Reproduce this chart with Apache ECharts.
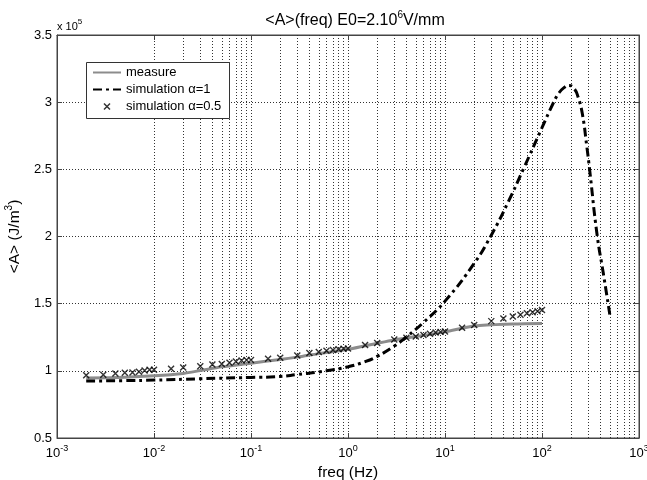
<!DOCTYPE html>
<html>
<head>
<meta charset="utf-8">
<script src="https://cdn.jsdelivr.net/npm/echarts@6/dist/echarts.min.js"></script>
<style>
html,body{margin:0;padding:0;background:#fff;}
#c{width:647px;height:480px;}
</style>
</head>
<body>
<div id="c"></div>
<script>
// ---- data (values in units of 1e5 J/m^3) ----
var measureFreq = [0.002, 0.005, 0.01, 0.02, 0.03, 0.05, 0.1, 0.2, 0.3, 0.5, 1, 2, 3, 5, 10, 20, 50, 100];
var measureVal  = [0.946, 0.952, 0.963, 0.981, 1.002, 1.030, 1.057, 1.085, 1.102, 1.128, 1.160, 1.205, 1.230, 1.255, 1.290, 1.333, 1.348, 1.352];

var sim1Freq = [0.002, 0.005, 0.01, 0.03, 0.1, 0.2, 0.3, 0.6, 1, 1.5, 2, 3, 4, 6, 10, 20, 30, 45, 65, 100, 130, 150, 170, 190, 215, 235, 260, 290, 310, 370, 430, 500];
var sim1Val  = [0.924, 0.927, 0.931, 0.941, 0.951, 0.958, 0.973, 1.000, 1.030, 1.068, 1.108, 1.184, 1.252, 1.360, 1.519, 1.800, 2.010, 2.260, 2.510, 2.810, 2.990, 3.070, 3.110, 3.125, 3.100, 3.040, 2.917, 2.668, 2.495, 2.011, 1.720, 1.420];

var sim05Freq = [0.002, 0.003, 0.004, 0.005, 0.006, 0.007, 0.008, 0.009, 0.01,
                 0.015, 0.02, 0.03, 0.04, 0.05, 0.06, 0.07, 0.08, 0.09, 0.1,
                 0.15, 0.2, 0.3, 0.4, 0.5, 0.6, 0.7, 0.8, 0.9, 1,
                 1.5, 2, 3, 4, 5, 6, 7, 8, 9, 10,
                 15, 20, 30, 40, 50, 60, 70, 80, 90, 100];
var sim05Val  = [0.968, 0.971, 0.981, 0.986, 0.988, 0.993, 1.003, 1.008, 1.008,
                 1.015, 1.025, 1.035, 1.048, 1.050, 1.060, 1.070, 1.077, 1.080, 1.080,
                 1.090, 1.097, 1.115, 1.132, 1.140, 1.149, 1.155, 1.160, 1.164, 1.167,
                 1.192, 1.207, 1.234, 1.246, 1.256, 1.266, 1.276, 1.286, 1.290, 1.293,
                 1.321, 1.341, 1.370, 1.390, 1.405, 1.418, 1.428, 1.436, 1.444, 1.452];

var seriesNames = ['measure', 'simulation \u03b1=1', 'simulation \u03b1=0.5'];
var yTicks = [0.5, 1, 1.5, 2, 2.5, 3, 3.5];
var decades = [0.001, 0.01, 0.1, 1, 10, 100];
var minorMult = [2, 3, 4, 5, 6, 7, 8, 9];

function zip(a, b) { return a.map(function (v, i) { return [v, b[i]]; }); }

var minorGrid = [];
decades.forEach(function (d) { minorMult.forEach(function (m) { minorGrid.push({ xAxis: d * m }); }); });

var FONT = 'Liberation Sans, Arial, Helvetica, sans-serif';
var gridColor = '#333';
var axisColor = '#444';
var crossPath = 'path://M0,0L10,10M10,0L0,10';

var chart = echarts.init(document.getElementById('c'), null, { renderer: 'canvas' });
function supRich(base, sup, lh) {
  return {
    b: { fontSize: base, fontFamily: FONT, fontWeight: 'normal', color: '#000', lineHeight: lh, verticalAlign: 'bottom' },
    s: { fontSize: sup, fontFamily: FONT, fontWeight: 'normal', color: '#000', lineHeight: lh, verticalAlign: 'top' }
  };
}

chart.setOption({
  animation: false,
  backgroundColor: '#fff',
  title: {
    text: '{b|<A>(freq) E0=2.10}{s|6}{b|V/mm}',
    left: 350, top: 5, textAlign: 'center',
    textStyle: { fontWeight: 'normal', rich: supRich(16, 10, 19) }
  },
  graphic: [{
    type: 'text', left: 57, top: 18,
    style: { text: '{b|x 10}{s|5}', rich: {
      b: { fontSize: 11, fontFamily: FONT, fill: '#000', lineHeight: 14, verticalAlign: 'bottom' },
      s: { fontSize: 8, fontFamily: FONT, fill: '#000', lineHeight: 14, verticalAlign: 'top' } } }
  }, {
    type: 'rect', left: 86, top: 62, z: 40,
    shape: { width: 143, height: 56 },
    style: { fill: '#fff', stroke: '#333', lineWidth: 1 }
  }],
  legend: {
    orient: 'vertical', left: 86, top: 62, z: 50,
    padding: [4, 8, 3, 6], itemGap: 4, itemWidth: 28, itemHeight: 6,
    textStyle: { fontSize: 13, fontFamily: FONT, color: '#000' },
    data: [
      { name: seriesNames[0], itemStyle: { opacity: 0 } },
      { name: seriesNames[1], itemStyle: { opacity: 0 } },
      { name: seriesNames[2], icon: crossPath, itemStyle: { color: 'none', borderColor: '#000', borderWidth: 1.5 } }
    ]
  },
  grid: { left: 57, right: 8, top: 35, bottom: 42, outerBoundsMode: 'none', containLabel: false,
          show: true, borderColor: axisColor, borderWidth: 1, backgroundColor: 'transparent' },
  xAxis: [{
    type: 'log', logBase: 10, min: 0.001, max: 1000,
    name: 'freq (Hz)', nameLocation: 'middle', nameGap: 25,
    nameTextStyle: { fontSize: 15.5, fontFamily: FONT, color: '#000' },
    axisLine: { lineStyle: { color: axisColor } },
    axisTick: { inside: true, length: 5, lineStyle: { color: axisColor } },
    axisLabel: {
      margin: 6, color: '#000',
      formatter: function (v) { return '{b|10}{s|' + Math.round(Math.log10(v)) + '}'; },
      rich: supRich(13, 9, 16)
    },
    splitLine: { show: true, lineStyle: { type: [1, 2], color: gridColor, width: 1 } }
  }, {
    type: 'log', logBase: 10, min: 0.001, max: 1000, position: 'top',
    axisLine: { lineStyle: { color: axisColor } },
    axisTick: { inside: true, length: 5, lineStyle: { color: axisColor } },
    axisLabel: { show: false }, splitLine: { show: false }
  }],
  yAxis: [{
    type: 'value', min: 0.5, max: 3.5, interval: 0.5,
    name: '{b|<A> (J/m}{s|3}{b|)}', nameLocation: 'middle', nameGap: 34,
    nameTextStyle: { rich: supRich(15.5, 10, 19) },
    axisLine: { show: true, lineStyle: { color: axisColor } },
    axisTick: { show: true, inside: true, length: 5, lineStyle: { color: axisColor } },
    axisLabel: { fontSize: 13, fontFamily: FONT, color: '#000', margin: 5,
      formatter: function (v) { return yTicks.indexOf(v) >= 0 ? String(v) : ''; } },
    splitLine: { show: true, lineStyle: { type: [1, 2], color: gridColor, width: 1 } }
  }, {
    type: 'value', min: 0.5, max: 3.5, interval: 0.5, position: 'right',
    axisLine: { show: true, lineStyle: { color: axisColor } },
    axisTick: { show: true, inside: true, length: 5, lineStyle: { color: axisColor } },
    axisLabel: { show: false }, splitLine: { show: false }
  }],
  series: [{
    name: seriesNames[0], type: 'line', data: zip(measureFreq, measureVal),
    smooth: 0.3, symbol: 'none', z: 3,
    lineStyle: { color: '#8c8c8c', width: 3 }, itemStyle: { color: '#8c8c8c' },
    markLine: {
      silent: true, symbol: ['none', 'none'], label: { show: false }, z: 1,
      lineStyle: { type: [1, 2], color: gridColor, width: 1 },
      emphasis: { disabled: true },
      data: minorGrid
    }
  }, {
    name: seriesNames[1], type: 'line', data: zip(sim1Freq, sim1Val),
    smooth: 0.5, symbol: 'none', z: 4,
    lineStyle: { color: '#000', width: 3, type: [9, 4, 3, 4] }, itemStyle: { color: '#000' }
  }, {
    name: seriesNames[2], type: 'scatter', data: zip(sim05Freq, sim05Val),
    symbol: crossPath, symbolSize: 6, z: 5,
    itemStyle: { color: 'none', borderColor: '#000', borderWidth: 1.4 }
  }]
});
</script>
</body>
</html>
